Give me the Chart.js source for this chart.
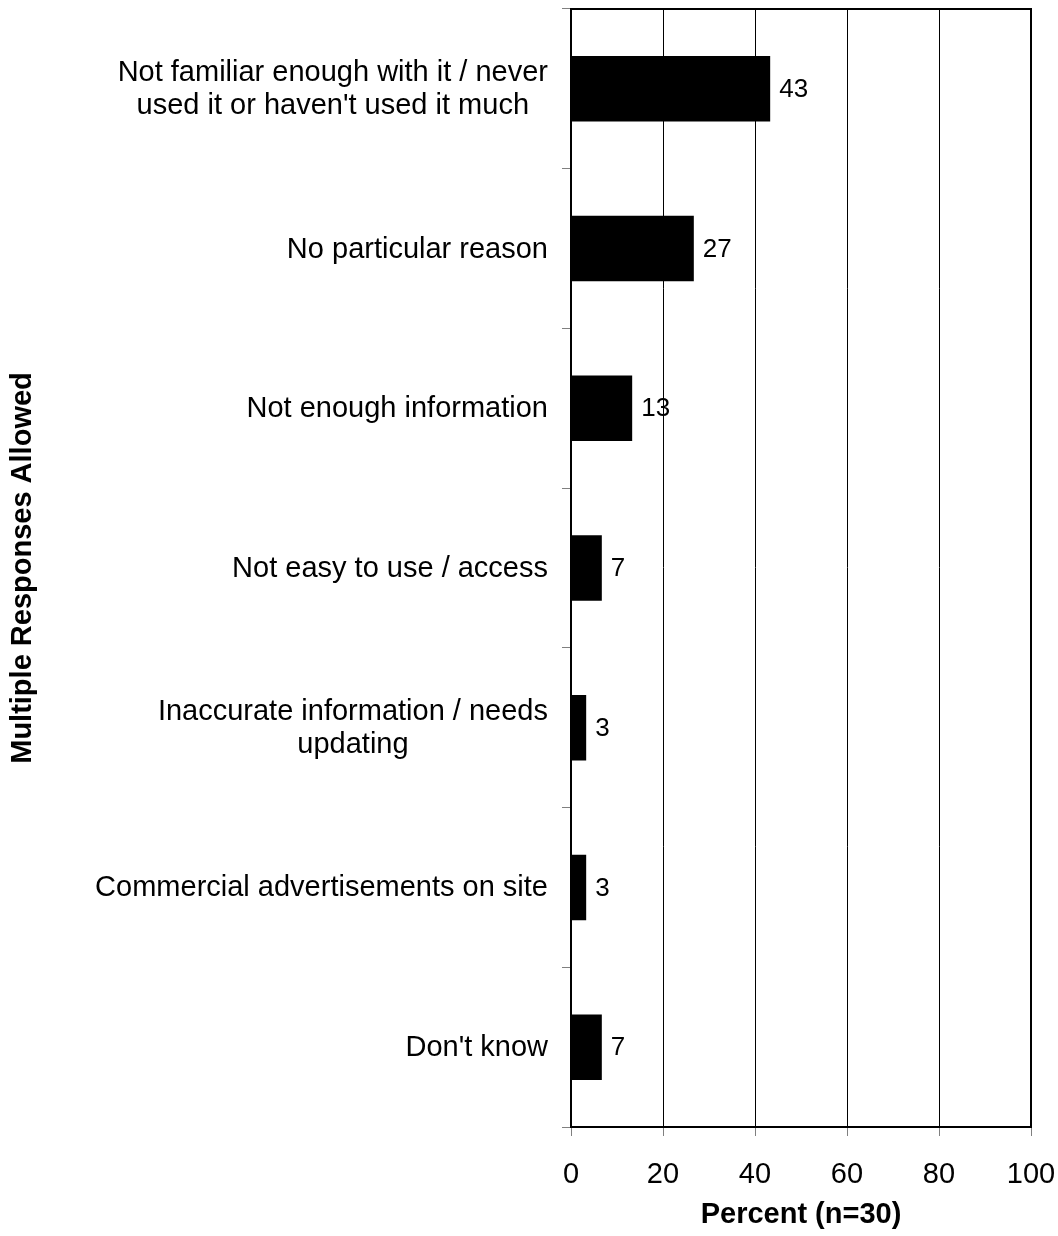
<!DOCTYPE html>
<html>
<head>
<meta charset="utf-8">
<script src="https://cdn.jsdelivr.net/npm/chart.js@4/dist/chart.umd.min.js"></script>
<style>
  body { margin: 0; background: #fff; }
  #wrap { width: 1058px; height: 1236px; }
</style>
</head>
<body>
<div id="wrap"><canvas id="chart"></canvas></div>
<script>
const categories = [
  ["Not familiar enough with it / never", "used it or haven't used it much"],
  "No particular reason",
  "Not enough information",
  "Not easy to use / access",
  ["Inaccurate information / needs", "updating"],
  "Commercial advertisements on site",
  "Don't know"
];
const percents = [43.3, 26.7, 13.3, 6.7, 3.3, 3.3, 6.7];
const valueLabels = ["43", "27", "13", "7", "3", "3", "7"];
const xMin = 0;
const xMax = 100;
const xStep = 20;

const FONT = "'Liberation Sans', Arial, sans-serif";
Chart.defaults.color = "#000";
Chart.defaults.font.family = FONT;

// frame, value labels and the two-line category labels
const extras = {
  id: "extras",
  afterDraw(chart) {
    const ctx = chart.ctx;
    const area = chart.chartArea;
    const yScale = chart.scales.y;
    ctx.save();
    ctx.strokeStyle = "#000";
    ctx.lineWidth = 2;
    ctx.beginPath();
    ctx.moveTo(area.left, area.top);
    ctx.lineTo(area.right, area.top);
    ctx.lineTo(area.right, area.bottom);
    ctx.stroke();

    ctx.fillStyle = "#000";
    ctx.font = "26px " + FONT;
    ctx.textAlign = "left";
    ctx.textBaseline = "middle";
    chart.getDatasetMeta(0).data.forEach((bar, i) => {
      ctx.fillText(valueLabels[i], bar.x + 9, bar.y + 1);
    });

    ctx.font = "29px " + FONT;
    ctx.textAlign = "center";
    const rightEdge = area.left - 23;
    const lineH = 33;
    categories.forEach((label, i) => {
      const lines = Array.isArray(label) ? label : [label];
      const w = Math.max(...lines.map(l => ctx.measureText(l).width));
      const cx = rightEdge - w / 2;
      const cy = yScale.getPixelForValue(i);
      lines.forEach((l, j) => {
        ctx.fillText(l, cx, cy + (j - (lines.length - 1) / 2) * lineH + 1);
      });
    });
    ctx.restore();
  }
};

new Chart(document.getElementById("chart"), {
  type: "bar",
  data: {
    labels: categories,
    datasets: [{
      data: percents,
      backgroundColor: "#000",
      borderWidth: 0,
      barPercentage: 0.41,
      categoryPercentage: 1
    }]
  },
  options: {
    indexAxis: "y",
    responsive: true,
    maintainAspectRatio: false,
    animation: false,
    layout: { padding: { top: 9, right: 27, left: 0, bottom: 0 } },
    plugins: {
      legend: { display: false },
      tooltip: { enabled: false }
    },
    scales: {
      x: {
        min: xMin,
        max: xMax,
        ticks: { stepSize: xStep, padding: 22, font: { size: 29 } },
        grid: { color: "#000", lineWidth: 1, tickLength: 9, tickColor: "#808080" },
        border: { color: "#000", width: 2 },
        title: {
          display: true,
          text: "Percent (n=30)",
          font: { size: 29, weight: "bold" },
          padding: { top: 0, bottom: 4 }
        },
        afterFit(scale) {
          scale.height = 109;
          scale.paddingLeft = 0;
          scale.paddingRight = 0;
        }
      },
      y: {
        ticks: { display: false },
        grid: { drawOnChartArea: false, drawTicks: true, tickLength: 9, tickColor: "#808080" },
        border: { color: "#000", width: 2 },
        title: {
          display: true,
          text: "Multiple Responses Allowed",
          font: { size: 29, weight: "bold" },
          padding: { top: 6, bottom: 0 }
        },
        afterFit(scale) {
          scale.width = 571;
          scale.paddingTop = 0;
          scale.paddingBottom = 0;
        }
      }
    }
  },
  plugins: [extras]
});
</script>
</body>
</html>
